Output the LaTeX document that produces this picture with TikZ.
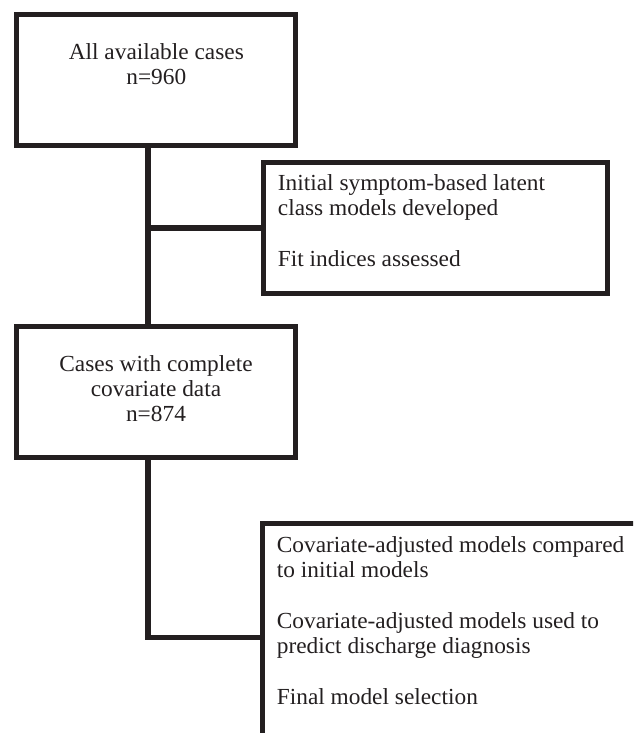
\documentclass[tikz,border=0pt]{standalone}
\usepackage{fontspec}
\setmainfont[FakeStretch=1.015]{Liberation Serif}
\definecolor{ink}{HTML}{231F20}
\begin{document}
\begin{tikzpicture}[x=1pt,y=-1pt,
  box/.style={draw=ink,line width=5pt,rectangle,inner sep=0pt},
  conn/.style={draw=ink,line width=5.5pt},
  txt/.style={inner sep=0pt,text=ink,font=\fontsize{23}{25}\selectfont}]
\useasboundingbox (0,0) rectangle (633,733);
\clip (0,0) rectangle (633,733);
\node[box,minimum width=278.5pt,minimum height=130.5pt] (box1) at (155.75,79.75) {};
\node[box,minimum width=344pt,minimum height=130.5pt] (box2) at (435.5,227.75) {};
\node[box,minimum width=278.5pt,minimum height=131pt] (box3) at (155.75,392) {};
\node[box,minimum width=420pt,minimum height=228pt] (box4) at (472.5,637.5) {};
\coordinate (t) at (148,0);
\draw[conn] (box1.south -| t) -- (box3.north -| t);
\draw[conn] (t |- box2.west) -- (box2.west);
\draw[conn] (box3.south -| t) -- (t |- box4.west) -- (box4.west);
\node[txt,align=center,anchor=north] (l1) at (156.3,43.8) {All available cases\\n=960};
\node[txt,align=left,anchor=north west] (l2) at (277.7,174.5) {Initial symptom-based latent\\class models developed\\[26pt]Fit indices assessed};
\node[txt,align=center,anchor=north] (l3) at (156,355.2) {Cases with complete\\covariate data\\n=874};
\node[txt,align=left,anchor=north west] (l4) at (276.7,536.2) {Covariate-adjusted models compared\\to initial models\\[26pt]Covariate-adjusted models used to\\predict discharge diagnosis\\[26pt]Final model selection};
\end{tikzpicture}
\end{document}
